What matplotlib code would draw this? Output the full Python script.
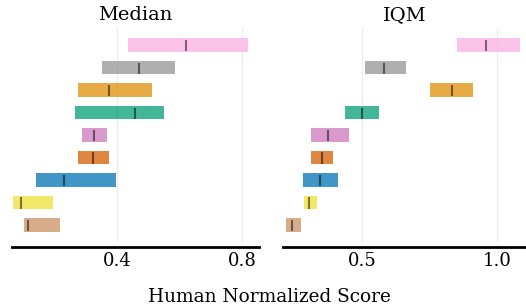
import matplotlib
matplotlib.use("Agg")
import matplotlib.pyplot as plt

plt.rcParams['font.family'] = ['DejaVu Serif']

# algorithms from bottom to top
algorithms = ['A1', 'A2', 'A3', 'A4', 'A5', 'A6', 'A7', 'A8', 'A9']
colors = ['#ca9161', '#ece133', '#0173b2', '#d55e00', '#cc78bc',
          '#029e73', '#de8f05', '#949494', '#fbafe4']

# Median: lower, upper, point
median_lower = [0.102, 0.067, 0.141, 0.275, 0.288, 0.266, 0.275, 0.352, 0.435]
median_upper = [0.218, 0.195, 0.397, 0.374, 0.368, 0.550, 0.512, 0.586, 0.819]
median_point = [0.115, 0.092, 0.231, 0.323, 0.325, 0.458, 0.375, 0.471, 0.620]

# IQM: lower, upper, point
iqm_lower = [0.216, 0.283, 0.279, 0.309, 0.309, 0.436, 0.752, 0.510, 0.852]
iqm_upper = [0.272, 0.331, 0.409, 0.391, 0.450, 0.562, 0.912, 0.663, 1.087]
iqm_point = [0.238, 0.302, 0.343, 0.349, 0.371, 0.498, 0.833, 0.581, 0.960]

metrics = [
    ('Median', median_lower, median_upper, median_point, (0.064, 0.854), [0.4, 0.8]),
    ('IQM', iqm_lower, iqm_upper, iqm_point, (0.205, 1.109), [0.5, 1.0]),
]

fig = plt.figure(figsize=(5.26, 3.08), dpi=100)
ax_rects = [[0.023, 0.214, 0.469, 0.695], [0.538, 0.214, 0.462, 0.695]]
height = 0.6

for rect, (name, lower, upper, point, xlim, ticks) in zip(ax_rects, metrics):
    ax = fig.add_axes(rect)
    for i in range(len(algorithms)):
        ax.barh(y=i, width=upper[i] - lower[i], height=height, left=lower[i],
                color=colors[i], alpha=0.75)
        ax.vlines(x=point[i], ymin=i - 7.5 * height / 16, ymax=i + 6 * height / 16,
                  color='k', alpha=0.5)
    ax.set_xlim(*xlim)
    ax.set_ylim(-0.76, 8.76)
    ax.set_xticks(ticks)
    ax.set_yticks([])
    ax.set_title(name, fontsize=14)
    ax.spines['right'].set_visible(False)
    ax.spines['top'].set_visible(False)
    ax.spines['left'].set_visible(False)
    ax.spines['bottom'].set_linewidth(2)
    ax.spines['bottom'].set_position(('outward', 3.5))
    ax.tick_params(length=0.1, width=0.1, labelsize=13)
    ax.grid(True, axis='x', alpha=0.25)
    ax.set_axisbelow(True)

fig.text(0.513, 0.005, 'Human Normalized Score', ha='center', va='bottom', fontsize=13.3)

plt.savefig('out.png', dpi=100)
